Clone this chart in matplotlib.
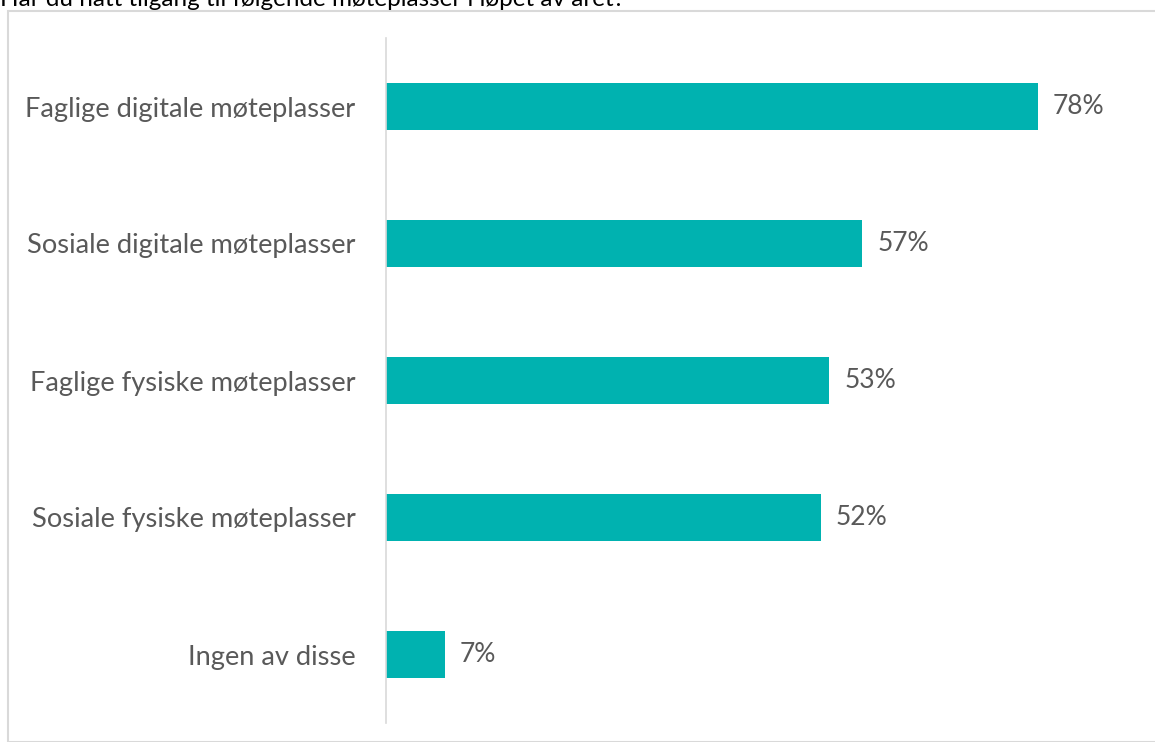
import matplotlib.pyplot as plt
from matplotlib.patches import Rectangle

kategorier = ['Faglige digitale møteplasser', 'Sosiale digitale møteplasser',
              'Faglige fysiske møteplasser', 'Sosiale fysiske møteplasser',
              'Ingen av disse']
andel = [78, 57, 53, 52, 7]
tittel = 'Har du hatt tilgang til følgende møteplasser i løpet av året?'

plt.rcParams['font.family'] = ['Lato', 'DejaVu Sans']

W, H = 1155, 742
fig = plt.figure(figsize=(W / 100, H / 100), dpi=100)

# grå ramme rundt diagramområdet
fig.patches.append(Rectangle((8 / W, 0), 1.2, 1 - 11 / H, transform=fig.transFigure,
                             fill=False, edgecolor='#d9d9d9', linewidth=1.5))

# tittelen er delvis kuttet i toppen
fig.text(0, 1 - 6 / H, tittel, ha='left', va='baseline', fontsize=17.5, color='black')

ax = fig.add_axes([386 / W, 1 - 723 / H, (1155 - 386) / W, 685 / H])
y = list(range(len(kategorier)))
ax.barh(y, andel, height=0.345, color='#00b2b0')
ax.set_ylim(len(kategorier) - 0.5, -0.5)
ax.set_xlim(0, 78 * (1155 - 386) / (1038 - 386))

ax.set_yticks(y)
ax.set_yticklabels(kategorier, fontsize=19.6, color='#595959')
ax.tick_params(axis='y', length=0, pad=22)
ax.set_xticks([])

for i, v in enumerate(andel):
    ax.text(v + 1.8, i, f'{v}%', va='center', ha='left', fontsize=19, color='#595959')

for side in ['top', 'right', 'bottom']:
    ax.spines[side].set_visible(False)
ax.spines['left'].set_color('#d9d9d9')
ax.spines['left'].set_linewidth(1.2)

fig.savefig('out.png', dpi=100)
